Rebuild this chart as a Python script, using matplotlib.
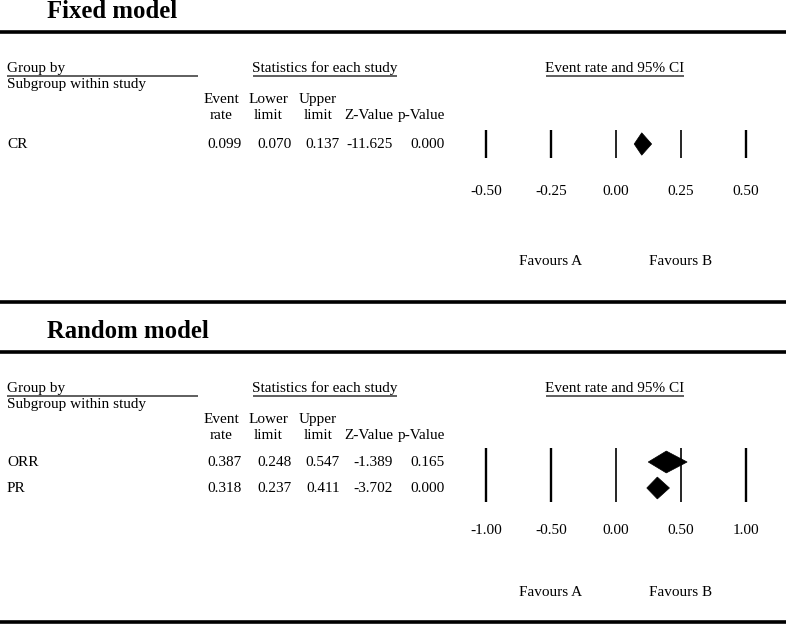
import matplotlib
matplotlib.use("Agg")
import matplotlib.pyplot as plt
from matplotlib.patches import Polygon
from matplotlib.transforms import blended_transform_factory

plt.rcParams['font.family'] = ['Liberation Serif', 'DejaVu Serif']

# ---------------- data ----------------
fixed_labels = ["CR"]
fixed_rate = [0.099]
fixed_lower = [0.070]
fixed_upper = [0.137]
fixed_z = [-11.625]
fixed_p = [0.000]
fixed_ticks = [-0.50, -0.25, 0.00, 0.25, 0.50]
fixed_ticklabels = ["-0.50", "-0.25", "0.00", "0.25", "0.50"]

random_labels = ["ORR", "PR"]
random_rate = [0.387, 0.318]
random_lower = [0.248, 0.237]
random_upper = [0.547, 0.411]
random_z = [-1.389, -3.702]
random_p = [0.165, 0.000]
random_ticks = [-1.00, -0.50, 0.00, 0.50, 1.00]
random_ticklabels = ["-1.00", "-0.50", "0.00", "0.50", "1.00"]

favours = ["Favours A", "Favours B"]

W, H = 786, 634
fig = plt.figure(figsize=(W / 100, H / 100), dpi=100)
bg = fig.add_axes([0, 0, 1, 1])
bg.set_xlim(0, W)
bg.set_ylim(H, 0)
bg.axis('off')

FS = 11
TFS = 17.8


def hline(y, x0, x1, lw, color='black'):
    bg.plot([x0, x1], [y, y], color=color, lw=lw, solid_capstyle='butt')


def txt(x, y, s, ha='left', **kw):
    bg.text(x, y, s, fontsize=FS, va='baseline', ha=ha, **kw)


def section(top, title, labels, rate, lower, upper, zval, pval,
            ticks, ticklabels, row_px, tick_base, fav_base, title_line_top):
    if title_line_top is not None:
        hline(title_line_top, 0, W, 2.6)
    bg.text(47, top + 18.5, title, fontsize=TFS, fontweight='bold',
            va='baseline', ha='left')
    hline(top + 32, 0, W, 2.6)
    gy = top + 72
    txt(7, gy, "Group by")
    hline(gy + 4, 7, 198, 1.1, '#333333')
    txt(7, gy + 16, "Subgroup within study")
    txt(325, gy, "Statistics for each study", ha='center')
    hline(gy + 4, 253, 397, 1.1, '#333333')
    txt(615, gy, "Event rate and 95% CI", ha='center')
    hline(gy + 4, 546, 684, 1.1, '#333333')
    hx = [221, 268, 318]
    h1 = ["Event", "Lower", "Upper"]
    h2 = ["rate", "limit", "limit"]
    for x, a, b in zip(hx, h1, h2):
        txt(x, gy + 31, a, ha='center')
        txt(x, gy + 47, b, ha='center')
    txt(369, gy + 47, "Z-Value", ha='center')
    txt(421, gy + 47, "p-Value", ha='center')

    n = len(labels)
    row0 = row_px[0]
    step = row_px[1] - row_px[0] if n > 1 else 26
    x_lo_px, x_hi_px = 486, 746
    lo_t, hi_t = ticks[0], ticks[-1]
    ppu = (x_hi_px - x_lo_px) / (hi_t - lo_t)
    L, R = 455, 780
    y_top_px = row0 - 20
    y_bot_px = row0 + (n - 1) * step + 20
    ax = fig.add_axes([L / W, 1 - y_bot_px / H, (R - L) / W, (y_bot_px - y_top_px) / H])
    ax.set_xlim(lo_t - (x_lo_px - L) / ppu, hi_t + (R - x_hi_px) / ppu)
    ax.set_ylim((y_bot_px - row0) / step, (y_top_px - row0) / step)
    ax.axis('off')
    ax.patch.set_alpha(0)
    for t in ticks:
        lw = 1.2 if t in (0.0, ticks[3]) else 1.7
        ax.vlines(t, -0.54, (n - 1) + 0.52, color='black', lw=lw)
    for i in range(n):
        hh = 0.43 if n == 1 else 0.42
        poly = Polygon([(lower[i], i), (rate[i], i - hh), (upper[i], i), (rate[i], i + hh)],
                       closed=True, facecolor='black', edgecolor='black', lw=0.5)
        ax.add_patch(poly)
        y = row_px[i] + 4.5
        txt(7, y, labels[i])
        for xr, v in zip([242, 292, 340, 393, 445],
                         [rate[i], lower[i], upper[i], zval[i], pval[i]]):
            txt(xr, y, f"{v:.3f}", ha='right')

    tr = blended_transform_factory(ax.transData, bg.transData)
    for t, lab in zip(ticks, ticklabels):
        txt(t, tick_base, lab, ha='center', transform=tr)
    txt(ticks[1], fav_base, favours[0], ha='center', transform=tr)
    txt(ticks[3], fav_base, favours[1], ha='center', transform=tr)


section(0, "Fixed model", fixed_labels, fixed_rate, fixed_lower, fixed_upper,
        fixed_z, fixed_p, fixed_ticks, fixed_ticklabels, [144], 195, 265, None)
section(320, "Random model", random_labels, random_rate, random_lower, random_upper,
        random_z, random_p, random_ticks, random_ticklabels, [462, 488], 534, 596, 302)
hline(622, 0, W, 2.6)

fig.savefig("out.png", dpi=100)
